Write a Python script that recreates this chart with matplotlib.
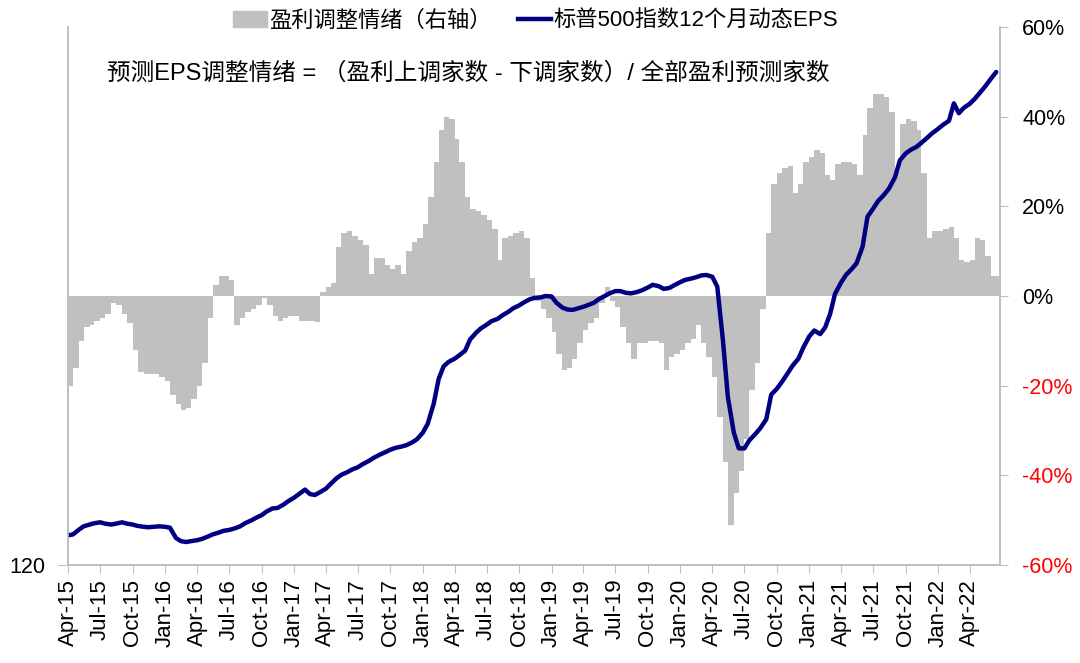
import matplotlib
matplotlib.use("Agg")
import matplotlib.pyplot as plt
import matplotlib.dates as mdates
import matplotlib.ticker as mticker
from matplotlib.lines import Line2D
import matplotlib.patches as mpatches
import numpy as np
import pandas as pd


plt.rcParams["font.family"] = ["Liberation Sans", "Noto Sans CJK SC", "DejaVu Sans"]

# Half-monthly observations, starting Apr 2015
start_date = "2015-04-01"

# 盈利调整情绪 (%), right axis
sentiment = [
    -20, -16, -10, -7, -6.5, -5.5, -5, -4, -1.5, -2,
    -4, -6, -12, -17, -17.5, -17.5, -17.5, -18, -19, -22,
    -24, -25.5, -25, -23, -20, -15, -5, 2.5, 4.5, 4.5,
    3.5, -6.5, -5, -3.5, -3, -2, -0.5, -2, -4.5, -5.5,
    -5, -4.5, -4.5, -5.5, -5.5, -5.5, -5.8, 1, 2, 3,
    11, 14, 14.5, 13.5, 12.5, 11.5, 5, 8.5, 8.5, 7,
    6, 7, 5, 10, 12, 13, 16, 22, 30, 37,
    40, 39.5, 35, 30, 22, 19.5, 19, 18, 17, 15,
    8, 13, 13.5, 14, 14.5, 13, 4, -1, -3, -5,
    -8, -13, -16.5, -16, -14, -10.5, -7.5, -6, -5, -1.5,
    2, -1, -2.5, -7, -10.5, -14, -10.5, -10.5, -10, -10,
    -10.5, -16.5, -13.5, -13, -12, -10.5, -9.5, -6.5, -10.5, -13.5,
    -18, -27, -37, -51, -44, -39, -32, -21, -15, -3,
    14, 25, 27.5, 28.5, 29, 23, 25, 30, 31, 32.5,
    32, 27, 26, 29.5, 30, 30, 29.5, 27, 36, 42,
    45, 45, 44.5, 41, 28, 38.5, 39.5, 39, 37, 27.5,
    13, 14.5, 14.5, 15, 15.5, 13, 8, 7.5, 8, 13,
    12.5, 9, 4.5, 4.5,
]

# 标普500指数12个月动态EPS, left axis
eps = [
    126.6, 126.8, 127.8, 128.6, 129.0, 129.3, 129.5, 129.2, 129.0, 129.2,
    129.5, 129.2, 129.0, 128.7, 128.5, 128.4, 128.5, 128.6, 128.5, 128.3,
    126.0, 125.3, 125.1, 125.3, 125.5, 125.8, 126.3, 126.8, 127.2, 127.6,
    127.8, 128.1, 128.6, 129.3, 129.9, 130.5, 131.1, 131.9, 132.6, 132.7,
    133.4, 134.2, 135.0, 135.8, 136.8, 135.8, 135.6, 136.2, 137.0, 138.1,
    139.3, 140.1, 140.7, 141.3, 141.8, 142.5, 143.2, 143.9, 144.6, 145.1,
    145.7, 146.1, 146.4, 146.7, 147.3, 148.0, 149.5, 151.5, 156.0, 161.5,
    164.3, 165.3, 166.0, 166.8, 167.8, 170.3, 171.8, 172.8, 173.6, 174.4,
    174.9, 175.7, 176.5, 177.3, 177.9, 178.6, 179.3, 179.6, 179.7, 180.0,
    179.9, 178.5, 177.4, 177.0, 176.9, 177.2, 177.6, 178.0, 178.5, 179.3,
    180.0, 180.6, 181.1, 181.1, 180.7, 180.6, 180.9, 181.3, 181.9, 182.5,
    182.2, 181.6, 181.8, 182.4, 183.1, 183.6, 183.9, 184.2, 184.6, 184.7,
    184.3, 182.1, 170.2, 157.5, 149.5, 146.0, 146.0, 147.8, 149.2, 150.5,
    152.5, 158.0, 159.3, 160.8, 162.8, 164.5, 166.0, 168.5, 171.0, 172.3,
    171.5, 173.0, 176.0, 180.5, 183.0, 184.7, 186.0, 187.3, 191.0, 197.7,
    199.5, 201.2, 202.6, 204.0, 206.5, 210.3, 211.8, 212.6, 213.3, 214.2,
    215.3, 216.3, 217.3, 218.2, 219.1, 223.0, 220.8, 222.0, 222.9, 224.0,
    225.5, 226.8, 228.6, 230.0,
]

right_ticks = [-60, -40, -20, 0, 20, 40, 60]

bar_label = "盈利调整情绪（右轴）"
line_label = "标普500指数12个月动态EPS"
note = "预测EPS调整情绪 = （盈利上调家数 - 下调家数）/ 全部盈利预测家数"

bar_colour = "#c0c0c0"
line_colour = "#000080"
axis_colour = "#bfbfbf"


dates = pd.date_range(start_date, periods=len(eps), freq="SMS")

# Bars drawn as one stepped area so neighbouring bars have no seams
bar_edges = dates.append(pd.DatetimeIndex([dates[-1] + pd.Timedelta(days=15)]))
bar_values = np.append(sentiment, sentiment[-1])

figure = plt.figure(figsize=(10.8, 6.63), dpi=100)
axes = figure.add_axes([0.063, 0.148, 0.863, 0.811])
line_axes = axes.twinx()

# Bars on the base axes, ticks on the right
axes.fill_between(bar_edges, bar_values, 0, step="post",
    facecolor=bar_colour, edgecolor="none", linewidth=0)
axes.set_ylim(-60, 60)
axes.yaxis.tick_right()
axes.yaxis.set_major_locator(mticker.FixedLocator(right_ticks))
axes.yaxis.set_major_formatter(
    mticker.FuncFormatter(lambda v, pos: "{:.0f}%".format(v)))
axes.tick_params(axis="y", direction="out", length=6, color=axis_colour,
    labelsize=15.5, pad=10)
for label, value in zip(axes.get_yticklabels(), right_ticks):
    label.set_color("red" if value < 0 else "black")

# Line on the twin axes, ticks on the left
line_axes.plot(dates, eps, color=line_colour, linewidth=3.2,
    solid_capstyle="round", solid_joinstyle="round")
line_axes.set_ylim(120, 240)
line_axes.yaxis.tick_left()
line_axes.yaxis.set_major_locator(mticker.FixedLocator([120]))
line_axes.tick_params(axis="y", direction="out", length=7, color=axis_colour,
    labelsize=15.5, pad=9)

axes.set_xlim(pd.Timestamp("2015-04-01"), pd.Timestamp("2022-06-26"))
axes.xaxis.set_major_locator(mdates.MonthLocator(bymonth=[1, 4, 7, 10]))
axes.xaxis.set_major_formatter(mdates.DateFormatter("%b-%y"))
axes.tick_params(axis="x", direction="out", length=6, color=axis_colour,
    labelsize=16, rotation=90, pad=4)

for ax in (axes, line_axes):
    ax.spines["top"].set_visible(False)
    for side in ("left", "right", "bottom"):
        ax.spines[side].set_color(axis_colour)
        ax.spines[side].set_linewidth(1.2)

handles = [
    mpatches.Patch(color=bar_colour, label=bar_label),
    Line2D([], [], color=line_colour, linewidth=3.2, label=line_label),
]
figure.legend(handles=handles, loc="upper center", bbox_to_anchor=(0.496, 1.014),
    ncol=2, frameon=False, fontsize=16, handlelength=1.5, handletextpad=0.1,
    columnspacing=1.2)

figure.text(0.099, 0.889, note, fontsize=17, va="center", ha="left")

plt.savefig("out.png", dpi=100)
plt.close()
